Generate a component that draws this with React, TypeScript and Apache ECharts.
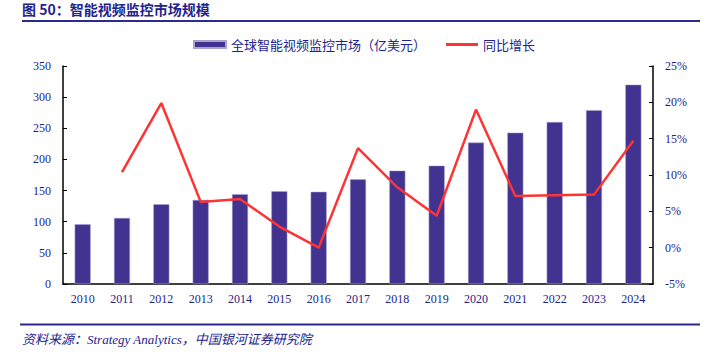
import React, { useEffect, useRef } from "react";
import * as echarts from "echarts";

const years = ["2010","2011","2012","2013","2014","2015","2016","2017","2018","2019","2020","2021","2022","2023","2024"];
const marketSize = [96, 106, 128, 135, 144, 149, 148, 168, 182, 190, 227, 243, 260, 279, 320];
const growth = [null, 10.4, 19.9, 6.3, 6.7, 2.9, 0.0, 13.7, 8.3, 4.4, 19.0, 7.1, 7.2, 7.3, 14.7];
const barName = "全球智能视频监控市场（亿美元）";
const lineName = "同比增长";
const titleText = "图 50：智能视频监控市场规模";
const sourceText = "资料来源：Strategy Analytics，中国银河证券研究院";

const NAVY = "#23238e";
const SERIF = "'Liberation Serif', 'Noto Sans CJK SC', serif";
const legendText = { color: NAVY, fontSize: 13, fontFamily: "'Noto Sans CJK SC', sans-serif" };

export default function App() {
  const ref = useRef<HTMLDivElement>(null);
  useEffect(() => {
    if (!ref.current) return;
    const chart = echarts.init(ref.current, null, { renderer: "svg" });
    chart.setOption({
      animation: false,
      backgroundColor: "#ffffff",
      grid: { left: 63, right: 59, top: 66, bottom: 73 },
      legend: [
        {
          top: 38,
          left: 193,
          padding: 0,
          itemWidth: 32,
          itemHeight: 7,
          textStyle: legendText,
          data: [{ name: barName, icon: "rect" }],
        },
        {
          top: 38,
          left: 446,
          padding: 0,
          itemWidth: 32,
          itemHeight: 3,
          textStyle: legendText,
          data: [{ name: lineName, icon: "rect", itemStyle: { color: "#ff3333" } }],
        },
      ],
      xAxis: {
        type: "category",
        data: years,
        boundaryGap: true,
        axisLine: { lineStyle: { color: "#000", width: 1.5 } },
        axisTick: { inside: true, length: 4, lineStyle: { color: "#000" } },
        axisLabel: { color: NAVY, fontSize: 12, fontFamily: SERIF, margin: 9 },
      },
      yAxis: [
        {
          type: "value",
          min: 0,
          max: 350,
          interval: 50,
          splitLine: { show: false },
          axisLine: { show: true, lineStyle: { color: "#000", width: 1.5 } },
          axisTick: { show: true, inside: true, length: 4, lineStyle: { color: "#000" } },
          axisLabel: { color: NAVY, fontSize: 12, fontFamily: SERIF, margin: 12 },
        },
        {
          type: "value",
          min: -5,
          max: 25,
          interval: 5,
          splitLine: { show: false },
          axisLine: { show: true, lineStyle: { color: "#000", width: 1.5 } },
          axisTick: { show: true, inside: true, length: 4, lineStyle: { color: "#000" } },
          axisLabel: { color: NAVY, fontSize: 12, fontFamily: SERIF, margin: 12, formatter: "{value}%" },
        },
      ],
      series: [
        {
          name: barName,
          type: "bar",
          data: marketSize,
          barWidth: 16,
          itemStyle: { color: "#433391", borderColor: "#a8a3cf", borderWidth: 0.5 },
        },
        {
          name: lineName,
          type: "line",
          yAxisIndex: 1,
          data: growth,
          showSymbol: false,
          symbol: "none",
          connectNulls: false,
          lineStyle: { color: "#ff3333", width: 2.5 },
          itemStyle: { color: "#ff3333" },
        },
      ],
      graphic: [
        {
          type: "text",
          x: 22,
          y: 9,
          style: { text: titleText, fill: NAVY, verticalAlign: "middle", font: "bold 14px 'Noto Sans CJK SC', sans-serif" },
        },
        {
          type: "line",
          shape: { x1: 22, y1: 21, x2: 700, y2: 21 },
          style: { stroke: "#2b2b8f", lineWidth: 2 },
        },
        {
          type: "line",
          shape: { x1: 20, y1: 324.5, x2: 700, y2: 324.5 },
          style: { stroke: "#2b2b8f", lineWidth: 2 },
        },
        {
          type: "text",
          x: 22,
          y: 339,
          style: { text: sourceText, fill: NAVY, verticalAlign: "middle", font: "italic 13px 'Liberation Serif', 'Noto Sans CJK SC', serif" },
        },
      ],
    });
    return () => chart.dispose();
  }, []);
  return <div ref={ref} style={{ width: 712, height: 357, position: "absolute", left: 0, top: 0 }} />;
}
